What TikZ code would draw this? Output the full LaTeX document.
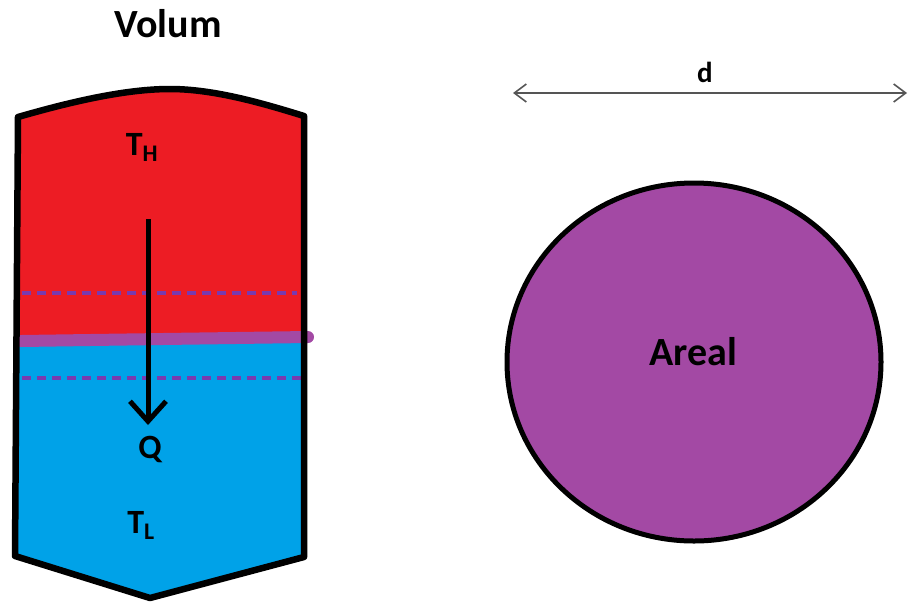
\documentclass[tikz,border=0pt]{standalone}
\usepackage{fontspec}
\setmainfont{Carlito}
\usetikzlibrary{arrows.meta}
\definecolor{tankred}{HTML}{ED1C24}
\definecolor{tankblue}{HTML}{00A2E8}
\definecolor{lilac}{HTML}{A349A4}
\definecolor{dashpurple}{HTML}{7A3AAE}
\definecolor{dimgray}{HTML}{555555}
\tikzset{
  lbl/.style={font=\bfseries, inner sep=0pt, text=black},
  outline/.style={line width=6.5pt, line join=round, draw=black},
  interface/.style={line width=12pt, draw=lilac, line cap=round},
  layerline/.style={line width=3.5pt, draw=dashpurple, dash pattern=on 9pt off 6pt},
  flow/.style={line width=5pt, draw=black, -{Straight Barb[length=20pt 0 0, width=36pt 0 0, line width=5pt]}},
  dim/.style={line width=1.6pt, draw=dimgray, {Straight Barb[length=12pt 0 0, width=18pt 0 0, line width=1.6pt]}-{Straight Barb[length=12pt 0 0, width=18pt 0 0, line width=1.6pt]}},
}
\begin{document}
\begin{tikzpicture}[x=1pt,y=-1pt]
\useasboundingbox (0,0) rectangle (909,603);
% tank shape
\def\tankpath{(18,117) .. controls (70,102) and (125,89) .. (170,89) .. controls (215,89) and (265,104) .. (304,116) -- (304,557) -- (150,598) -- (15,556) -- cycle}
\begin{scope}
  \clip \tankpath;
  \fill[tankred] (0,60) rectangle (330,340);
  \fill[tankblue] (0,340) rectangle (330,610);
\end{scope}
\draw[layerline] (22,293) -- (297,293);
\draw[layerline] (22,378) -- (303,378);
\draw[interface] (21,341) -- (90,340) -- (308,337);
\draw[outline] \tankpath;
% arrow Q
\coordinate (qstart) at (148,219);
\coordinate (qend) at (148,425);
\draw[flow] (qstart) -- (qend);
% labels
\node[lbl, font=\bfseries\fontsize{40}{44}\selectfont, anchor=base] (volum) at (168,37) {Volum};
\node[lbl, font=\bfseries\fontsize{34}{38}\selectfont, anchor=base] (th) at (142,155) {T\textsubscript{H}};
\node[lbl, font=\bfseries\fontsize{34}{38}\selectfont, anchor=base] (q) at (150,458) {Q};
\node[lbl, font=\bfseries\fontsize{34}{38}\selectfont, anchor=base] (tl) at (141,533) {T\textsubscript{L}};
% circle
\draw[line width=5pt, fill=lilac] (694,362) ellipse [x radius=187, y radius=179];
\node[lbl, font=\bfseries\fontsize{40}{44}\selectfont, anchor=base] (areal) at (693,365) {Areal};
% dimension d
\coordinate (dl) at (513,93);
\coordinate (dr) at (907,93);
\draw[dim] (dl) -- (dr);
\node[lbl, font=\bfseries\fontsize{29}{32}\selectfont, anchor=base] (d) at (705,82) {d};
\end{tikzpicture}
\end{document}
